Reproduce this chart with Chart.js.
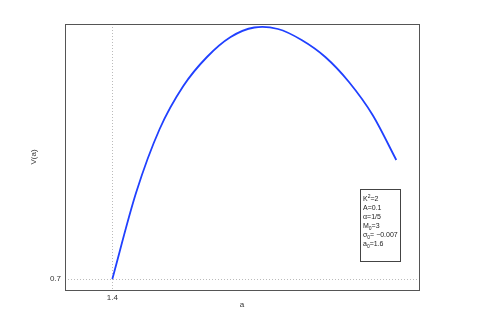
<!DOCTYPE html>
<html>
<head>
<meta charset="utf-8">
<script src="https://cdn.jsdelivr.net/npm/chart.js@4.4.0/dist/chart.umd.min.js"></script>
<style>
  html, body { margin: 0; padding: 0; background: #fff; }
  #wrap { width: 498px; height: 327px; }
</style>
</head>
<body>
<div id="wrap"><canvas id="Graph" width="498" height="327"></canvas></div>
<script>
// values
const aValues = [1.40, 1.45, 1.50, 1.55, 1.60, 1.65, 1.70, 1.75, 1.80, 1.85, 1.90, 1.95, 2.00];
const vValues = [0.700, 0.786, 0.850, 0.893, 0.922, 0.942, 0.9515, 0.950, 0.939, 0.922, 0.897, 0.864, 0.819];
const xTicks = [1.4];
const yTicks = [0.7];

// parameter box text: [text, 'sup' | 'sub' | '']
const paramLines = [
    [['K', ''], ['2', 'sup'], ['=2', '']],
    [['A=0.1', '']],
    [['\u03b1=1/5', '']],
    [['M', ''], ['0', 'sub'], ['=3', '']],
    [['\u03c3', ''], ['0', 'sub'], ['= \u22120.007', '']],
    [['a', ''], ['0', 'sub'], ['=1.6', '']]
];

const points = aValues.map((a, i) => ({ x: a, y: vValues[i] }));
const fontFamily = '"Liberation Sans", Arial, sans-serif';

const framePlugin = {
    id: 'frame',
    afterDraw(chart) {
        const { ctx, chartArea } = chart;
        ctx.save();
        ctx.strokeStyle = '#555';
        ctx.lineWidth = 1;
        ctx.strokeRect(chartArea.left + 0.5, chartArea.top + 0.5,
            chartArea.right - chartArea.left, chartArea.bottom - chartArea.top);

        // parameter box
        const bx = chartArea.left + 295, by = chartArea.top + 165, bw = 40, bh = 72;
        ctx.strokeStyle = '#444';
        ctx.strokeRect(bx + 0.5, by + 0.5, bw, bh);
        ctx.fillStyle = '#222';
        ctx.textBaseline = 'alphabetic';
        paramLines.forEach((line, i) => {
            let x = bx + 3;
            const y = by + 12 + i * 9;
            line.forEach(([txt, kind]) => {
                ctx.font = (kind ? '5px ' : '7px ') + fontFamily;
                const dy = kind === 'sup' ? -3 : kind === 'sub' ? 2 : 0;
                ctx.fillText(txt, x, y + dy);
                x += ctx.measureText(txt).width;
            });
        });
        ctx.restore();
    }
};

const ctx = document.getElementById('Graph').getContext('2d');
new Chart(ctx, {
    type: 'line',
    data: {
        datasets: [{
            data: points,
            borderColor: '#2040ff',
            borderWidth: 1.8,
            pointRadius: 0,
            fill: false,
            tension: 0.3
        }]
    },
    options: {
        responsive: false,
        animation: false,
        layout: { padding: { top: 24, right: 79, left: 0, bottom: 0 } },
        plugins: { legend: { display: false }, tooltip: { enabled: false } },
        scales: {
            x: {
                type: 'linear',
                min: 1.3,
                max: 2.048,
                afterBuildTicks: (scale) => { scale.ticks = xTicks.map(v => ({ value: v })); },
                afterFit: (scale) => { scale.height = 37; },
                ticks: { color: '#333', font: { family: fontFamily, size: 8 }, padding: 3,
                    callback: (v) => v.toFixed(1) },
                grid: { color: '#bbb', lineWidth: 1, drawTicks: false },
                border: { display: false, dash: [1, 2] },
                title: { display: true, text: 'a', color: '#333', font: { family: fontFamily, size: 8 }, padding: { top: 0, bottom: 17 } }
            },
            y: {
                type: 'linear',
                min: 0.689,
                max: 0.955,
                afterBuildTicks: (scale) => { scale.ticks = yTicks.map(v => ({ value: v })); },
                afterFit: (scale) => { scale.width = 65; },
                ticks: { color: '#333', font: { family: fontFamily, size: 8 }, padding: 4,
                    callback: (v) => v.toFixed(1) },
                grid: { color: '#bbb', lineWidth: 1, drawTicks: false },
                border: { display: false, dash: [1, 2] },
                title: { display: true, text: 'V(a)', color: '#333', font: { family: fontFamily, size: 8 }, padding: { top: 29, bottom: 0 } }
            }
        }
    },
    plugins: [framePlugin]
});
</script>
</body>
</html>
